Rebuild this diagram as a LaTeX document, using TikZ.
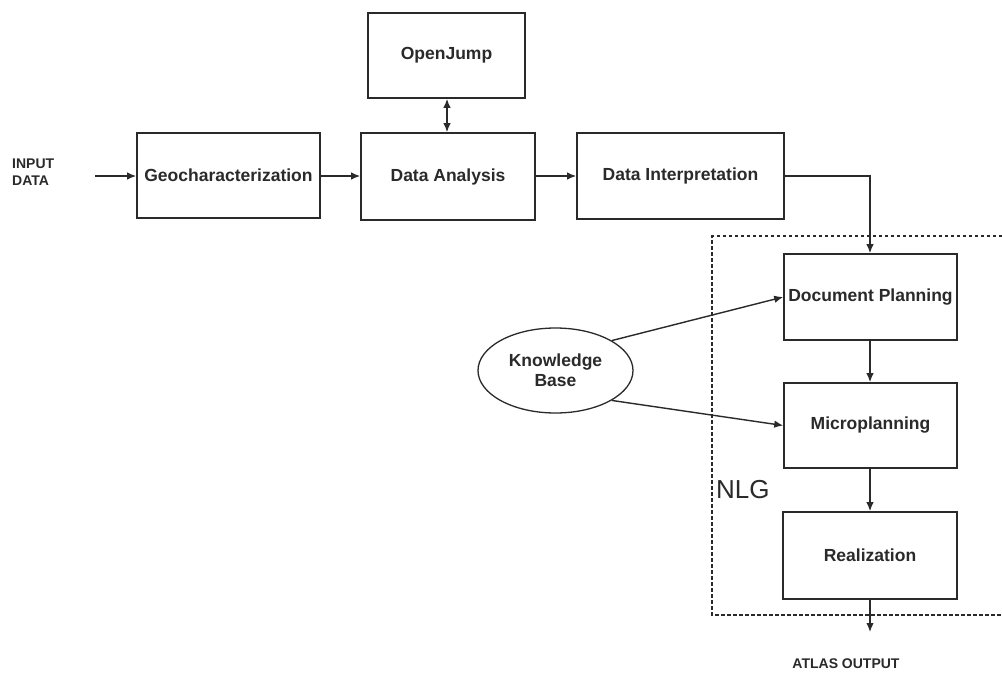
\documentclass[tikz,border=0pt]{standalone}
\usepackage{fontspec}
\setmainfont{Liberation Sans}
\usetikzlibrary{arrows.meta,shapes.geometric}
\definecolor{ink}{HTML}{2A2A2A}
\tikzset{
  box/.style={draw=ink, line width=1.6pt, rectangle, inner sep=0pt, font=\fontsize{17.5}{20}\selectfont\bfseries, text=ink},
  oval/.style={draw=ink, line width=1.3pt, ellipse, inner sep=0pt, font=\fontsize{17.5}{20}\selectfont\bfseries, text=ink, align=center},
  conn/.style={draw=ink, line width=1.4pt, -{Latex[length=9pt,width=7.5pt]}},
  dconn/.style={draw=ink, line width=1.4pt, {Latex[length=9pt,width=7.5pt]}-{Latex[length=9pt,width=7.5pt]}},
  small/.style={font=\fontsize{14}{17}\selectfont\bfseries, text=ink, inner sep=0pt, align=left},
  nlgbox/.style={draw=ink, line width=1.5pt, dash pattern=on 3.5pt off 2.5pt}
}
\begin{document}
\begin{tikzpicture}[x=1pt,y=-1pt]
\useasboundingbox (0,0) rectangle (1002,673);
\fill[white] (0,0) rectangle (1002,673);

\node[box, minimum width=157pt, minimum height=85pt] (oj) at (446.5,55.5) {OpenJump};
\node[box, minimum width=183pt, minimum height=85pt] (geo) at (228.5,175.5) {Geocharacterization};
\node[box, minimum width=174pt, minimum height=87pt] (da) at (448,176.5) {Data Analysis};
\node[box, minimum width=207pt, minimum height=86pt] (di) at (680.5,176) {Data Interpretation};
\node[box, minimum width=173pt, minimum height=86pt] (dp) at (870.5,297) {Document Planning};
\node[box, minimum width=173pt, minimum height=85pt] (mp) at (870.5,425.5) {Microplanning};
\node[box, minimum width=174pt, minimum height=87pt] (re) at (870,555.5) {Realization};
\node[oval, minimum width=155pt, minimum height=85pt] (kb) at (555.5,370.5) {Knowledge\\[0pt]Base};

\node[small, anchor=west] (in) at (12,172) {INPUT\\DATA};
\node[small] (out) at (846,664) {ATLAS OUTPUT};
\node[font=\fontsize{26}{28}\selectfont, text=ink, inner sep=0pt, anchor=west] (nlg) at (716,490) {NLG};

\coordinate (inend) at (95,176);
\coordinate (outend) at (870,632);
\coordinate (dicorner) at (870,176);

\draw[nlgbox] (1002,236) -- (712,236) -- (712,615) -- (1002,615);

\draw[conn] (inend) -- (geo.west |- inend);
\draw[conn] (geo.east |- inend) -- (da.west |- inend);
\draw[conn] (da.east |- inend) -- (di.west |- inend);
\draw[dconn] (oj.south -| 447,0) -- (da.north -| 447,0);
\draw[conn] (di.east |- dicorner) -- (dicorner) -- (dp.north -| dicorner);
\draw[conn] (kb.28) -- (dp.west);
\draw[conn] (kb.-28) -- (mp.west);
\draw[conn] (dp.south -| dicorner) -- (mp.north -| dicorner);
\draw[conn] (mp.south -| dicorner) -- (re.north -| dicorner);
\draw[conn] (re.south -| dicorner) -- (outend);
\end{tikzpicture}
\end{document}
